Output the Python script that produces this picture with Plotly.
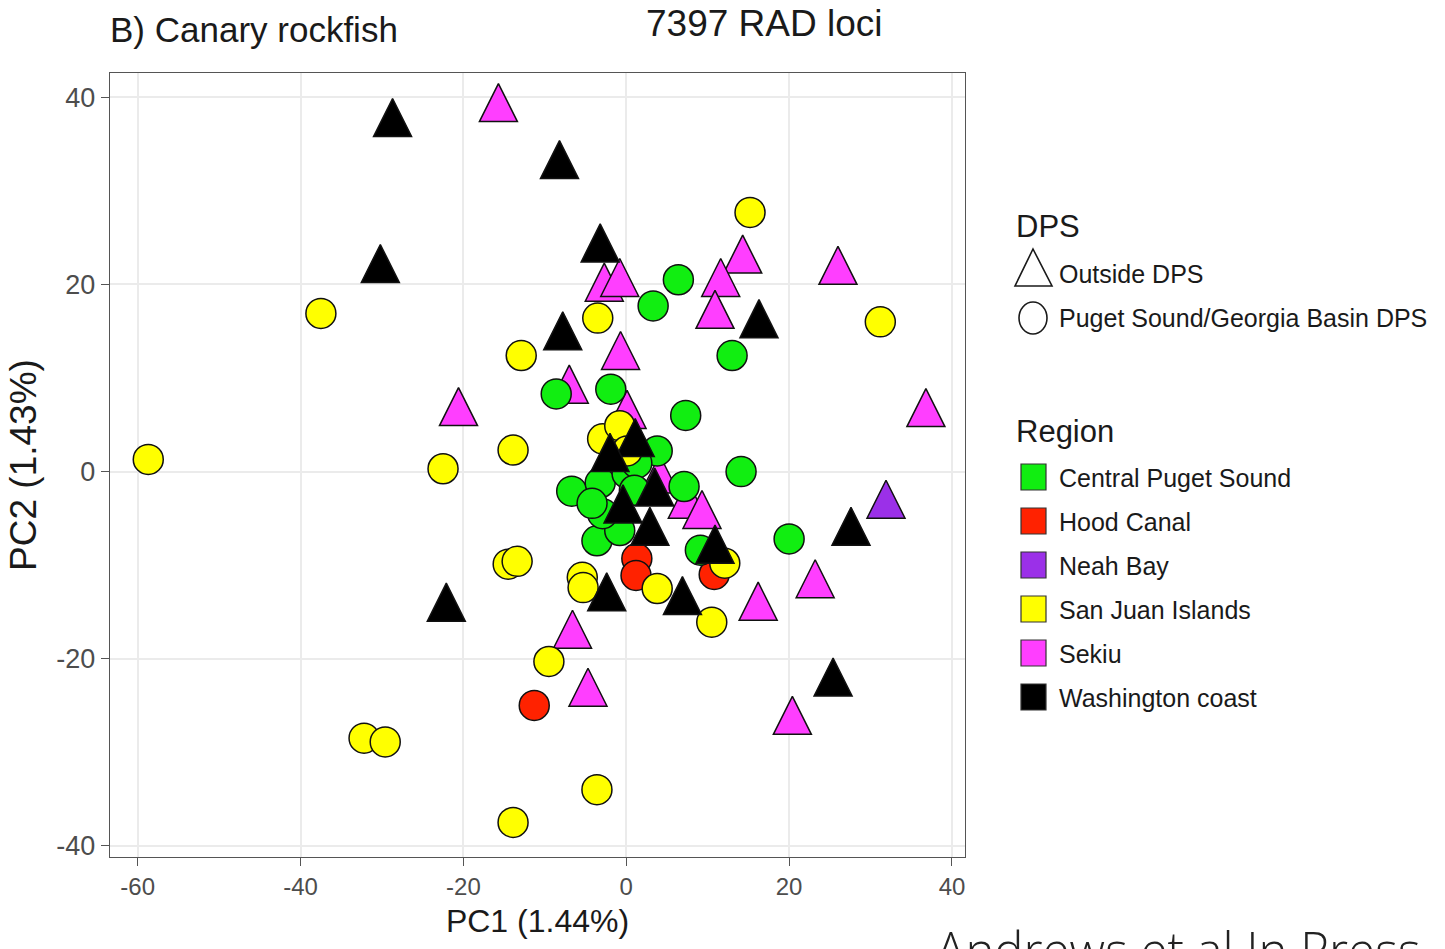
import plotly.graph_objects as go

# ---------------- data ----------------
regions = ["Central Puget Sound", "Hood Canal", "Neah Bay",
           "San Juan Islands", "Sekiu", "Washington coast"]
region_colors = ["#11EE11", "#FF2200", "#9B30E8", "#FFFF00", "#FF3EFF", "#000000"]
dps_labels = ["Outside DPS", "Puget Sound/Georgia Basin DPS"]

# Sekiu (Outside DPS)
sekiu_x = [-15.7, -2.7, -0.8, 14.3, 11.6, 10.9, 26.0, -0.7, -7.0, -20.6, 36.8,
           0.1, 4.1, 7.5, 9.3, 23.2, 16.2, -6.6, -4.7, 20.4]
sekiu_y = [38.8, 19.6, 20.1, 22.6, 20.1, 16.7, 21.4, 12.3, 8.7, 6.3, 6.2,
           6.0, -0.9, -3.6, -4.7, -12.1, -14.5, -17.5, -23.7, -26.7]

# Hood Canal (Puget Sound/Georgia Basin DPS)
hood_x = [1.3, 1.2, 10.8, -11.3]
hood_y = [-9.3, -11.1, -11.0, -25.0]

# Central Puget Sound (Puget Sound/Georgia Basin DPS)
cps_x = [6.4, 3.3, 13.0, -1.9, -8.6, 7.3, 14.1, 20.0, 7.1, 9.1, -6.7, -3.6,
         3.8, -3.2, 0.1, -0.8, -2.9, -4.2, 1.3, 1.0]
cps_y = [20.5, 17.7, 12.4, 8.8, 8.3, 6.0, 0.0, -7.2, -1.6, -8.4, -2.1, -7.4,
         2.2, -1.2, -0.2, -6.3, -4.5, -3.4, 0.9, -2.0]

# San Juan Islands (Puget Sound/Georgia Basin DPS)
sji_x = [-58.7, -37.5, -22.5, -13.9, -12.9, -3.5, 15.2, 31.2, -14.5, -13.4,
         -5.4, -5.3, 3.8, 10.5, 12.1, -9.5, -32.2, -29.6, -3.6, -13.9,
         -2.9, -0.8, 0.1]
sji_y = [1.3, 16.9, 0.3, 2.3, 12.4, 16.4, 27.7, 16.0, -9.9, -9.6,
         -11.3, -12.4, -12.5, -16.1, -9.8, -20.3, -28.5, -28.9, -34.0, -37.5,
         3.5, 4.9, 2.2]

# Washington coast (Outside DPS)
wc_x = [-28.7, -8.2, -3.2, -30.2, -7.8, 16.3, -22.1, -2.4, 6.9, 10.9, 27.6, 25.4,
        1.1, -2.0, 3.5, -0.4, 2.9]
wc_y = [37.2, 32.7, 23.8, 21.6, 14.4, 15.7, -14.6, -13.5, -13.9, -8.4, -6.5, -22.6,
        3.0, 1.4, -2.3, -4.1, -6.5]

# Neah Bay (Outside DPS)
neah_x = [31.9]
neah_y = [-3.6]

x_ticks = [-60, -40, -20, 0, 20, 40]
y_ticks = [-40, -20, 0, 20, 40]

# ---------------- layout geometry ----------------
W, H = 1445, 949
ML, MR, MT, MB = 110, 480, 73, 92
PW, PH = W - ML - MR, H - MT - MB


def px(x):
    return (x - ML) / PW


def py(y):
    return (H - MB - y) / PH


FONT = "Liberation Sans, Arial, sans-serif"

fig = go.Figure()

TRI_SIZE = 38
TRI_STANDOFF = 25
CIRC_SIZE = 30
LINE = dict(color="#111111", width=1.5)


def add_points(xs, ys, color, shape):
    if shape == "tri":
        marker = dict(symbol="arrow-down", angle=180, standoff=TRI_STANDOFF,
                      size=TRI_SIZE, color=color, line=LINE)
    else:
        marker = dict(symbol="circle", size=CIRC_SIZE, color=color, line=LINE)
    fig.add_trace(go.Scatter(x=xs, y=ys, mode="markers", marker=marker,
                             showlegend=False, hoverinfo="x+y"))


add_points(sekiu_x, sekiu_y, region_colors[4], "tri")
add_points(hood_x, hood_y, region_colors[1], "circ")
add_points(cps_x, cps_y, region_colors[0], "circ")
add_points(sji_x, sji_y, region_colors[3], "circ")
add_points(wc_x, wc_y, region_colors[5], "tri")
add_points(neah_x, neah_y, region_colors[2], "tri")

# ---------------- legend (drawn manually) ----------------
shapes = []
annotations = []
TXT = "#1a1a1a"
ITEM = 25
TITLE = 31

annotations.append(dict(x=px(1014), y=py(226), xref="paper", yref="paper",
                        text="DPS", showarrow=False, xanchor="left", yanchor="middle",
                        font=dict(family=FONT, size=TITLE, color=TXT)))
shapes.append(dict(type="path", xref="paper", yref="paper",
                   path=f"M{px(1033)},{py(249)} L{px(1052)},{py(286)} L{px(1015)},{py(286)} Z",
                   line=dict(color=TXT, width=1.6), fillcolor="rgba(0,0,0,0)"))
annotations.append(dict(x=px(1057), y=py(274), xref="paper", yref="paper",
                        text=dps_labels[0], showarrow=False, xanchor="left", yanchor="middle",
                        font=dict(family=FONT, size=ITEM, color=TXT)))
shapes.append(dict(type="circle", xref="paper", yref="paper",
                   x0=px(1019), x1=px(1047), y0=py(302), y1=py(334),
                   line=dict(color=TXT, width=1.6), fillcolor="rgba(0,0,0,0)"))
annotations.append(dict(x=px(1057), y=py(318), xref="paper", yref="paper",
                        text=dps_labels[1], showarrow=False, xanchor="left", yanchor="middle",
                        font=dict(family=FONT, size=ITEM, color=TXT)))

annotations.append(dict(x=px(1014), y=py(431), xref="paper", yref="paper",
                        text="Region", showarrow=False, xanchor="left", yanchor="middle",
                        font=dict(family=FONT, size=TITLE, color=TXT)))
for i, (name, col) in enumerate(zip(regions, region_colors)):
    cy = 477 + 44 * i
    shapes.append(dict(type="rect", xref="paper", yref="paper",
                       x0=px(1021), x1=px(1046), y0=py(cy - 13), y1=py(cy + 13),
                       line=dict(color="#333333", width=1.2), fillcolor=col))
    annotations.append(dict(x=px(1057), y=py(cy + 1), xref="paper", yref="paper",
                            text=name, showarrow=False, xanchor="left", yanchor="middle",
                            font=dict(family=FONT, size=ITEM, color=TXT)))

# titles
annotations.append(dict(x=px(108), y=py(29), xref="paper", yref="paper",
                        text="B) Canary rockfish", showarrow=False, xanchor="left",
                        yanchor="middle", font=dict(family=FONT, size=35, color=TXT)))
annotations.append(dict(x=px(644), y=py(23), xref="paper", yref="paper",
                        text="7397 RAD loci", showarrow=False, xanchor="left",
                        yanchor="middle", font=dict(family=FONT, size=37, color=TXT)))
annotations.append(dict(x=px(934), y=py(914), xref="paper", yref="paper",
                        text="Andrews et al In Press", showarrow=False, xanchor="left",
                        yanchor="top", font=dict(family="Open Sans, Lato, sans-serif",
                                                 size=49, color="#222222", weight=300)))

axis_common = dict(showgrid=True, gridcolor="#ebebeb", gridwidth=1.6, zeroline=False,
                   showline=True, mirror=True, linecolor="#555555", linewidth=1.4,
                   ticks="outside", ticklen=8, tickwidth=1.4, tickcolor="#555555")

fig.update_layout(
    width=W, height=H,
    margin=dict(l=ML, r=MR, t=MT, b=MB, pad=0),
    paper_bgcolor="white", plot_bgcolor="white",
    xaxis=dict(range=[-63.4, 41.6], tickvals=x_ticks, ticktext=[str(v) for v in x_ticks],
               tickfont=dict(family=FONT, size=24, color="#4d4d4d"),
               title=dict(text="PC1 (1.44%)", standoff=10,
                          font=dict(family=FONT, size=32, color=TXT)),
               **axis_common),
    yaxis=dict(range=[-41.2, 42.6], tickvals=y_ticks, ticktext=[str(v) for v in y_ticks],
               tickfont=dict(family=FONT, size=27, color="#4d4d4d"),
               title=dict(text="PC2 (1.43%)", standoff=8,
                          font=dict(family=FONT, size=37, color=TXT)),
               **axis_common),
    shapes=shapes,
    annotations=annotations,
    showlegend=False,
)

fig.write_html("out.html")
